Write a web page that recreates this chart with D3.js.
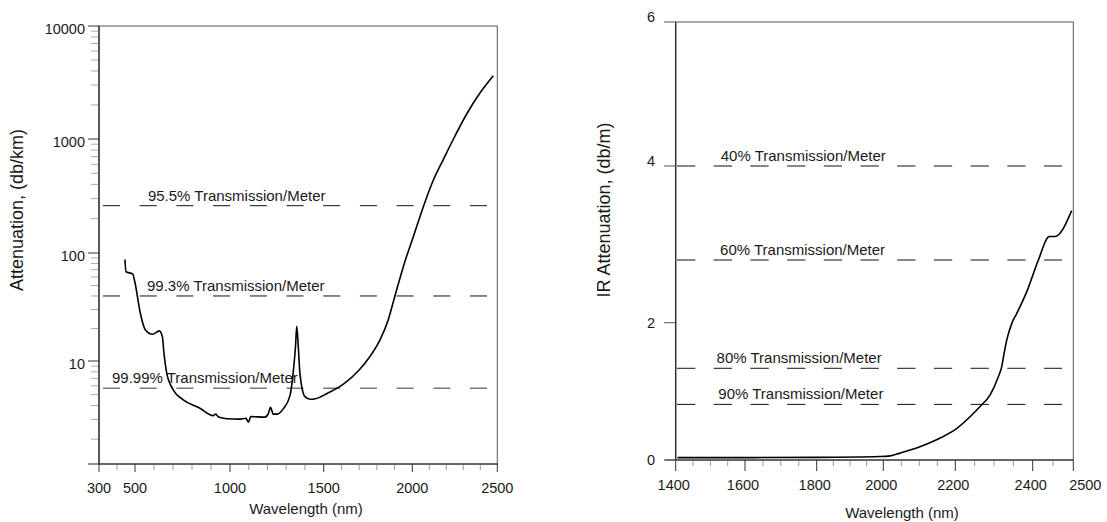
<!DOCTYPE html>
<html>
<head>
<meta charset="utf-8">
<title>Fiber attenuation</title>
<script src="https://d3js.org/d3.v7.min.js"></script>
<style>
  body { margin: 0; background: #fff; }
  text { font-family: "Liberation Sans", Arial, Helvetica, sans-serif; fill: #1a1a1a; }
</style>
</head>
<body>
<script>
// left chart: attenuation (db/km) vs wavelength (nm)
var leftWavelength = [444, 450, 487, 500, 528, 555, 593, 628, 644, 652, 667, 702, 754, 842, 911, 925, 940, 982,
  1050, 1085, 1098, 1111, 1187, 1205, 1216, 1231, 1253, 1285, 1320, 1337, 1350, 1356, 1364, 1373, 1400, 1427,
  1455, 1517, 1611, 1700, 1761, 1817, 1864, 1902, 1958, 2006, 2065, 2124, 2183, 2242, 2320, 2398, 2476];
var leftAtten = [87, 67, 64, 53, 27.7, 19.4, 17.7, 19, 16.8, 12, 7.8, 5.5, 4.5, 3.78, 3.25, 3.35, 3.15, 3.05,
  3.02, 3.08, 2.84, 3.18, 3.15, 3.4, 3.85, 3.35, 3.35, 3.75, 4.9, 7.8, 14, 21, 14, 7.8, 4.8, 4.55,
  4.6, 5.1, 6.2, 8.3, 11, 15.6, 24, 40, 83, 139, 255, 437, 663, 1000, 1665, 2550, 3630];
var leftXTicks = [300, 500, 1000, 1500, 2000, 2500];
var leftYTicks = [10, 100, 1000, 10000];
var leftRefValues = [260, 40, 5.7];
var leftRefLabels = ["95.5% Transmission/Meter", "99.3% Transmission/Meter", "99.99% Transmission/Meter"];

// right chart: IR attenuation (db/m) vs wavelength (nm)
var rightWavelength = [1405, 1600, 1800, 1990, 2019, 2046, 2100, 2158, 2204, 2238, 2264, 2290, 2311, 2320,
  2326, 2333, 2346, 2359, 2385, 2414, 2441, 2455, 2496];
var rightAtten = [0.035, 0.035, 0.038, 0.05, 0.06, 0.1, 0.19, 0.32, 0.46, 0.63, 0.78, 0.95, 1.21, 1.36,
  1.55, 1.75, 1.99, 2.12, 2.4, 2.8, 3.1, 3.1, 3.43];
var rightXTicks = [1400, 1600, 1800, 2000, 2200, 2400, 2500];
var rightYTicks = [0, 2, 4, 6];
var rightRefValues = [4, 2.8, 1.336, 0.81];
var rightRefLabels = ["40% Transmission/Meter", "60% Transmission/Meter", "80% Transmission/Meter", "90% Transmission/Meter"];

var svg = d3.select("body").append("svg")
  .attr("width", 1107)
  .attr("height", 522);

// scales (piecewise to follow the slightly uneven printed axes)
var xL = d3.scaleLinear()
  .domain([300, 500, 1000, 1500, 2000, 2500])
  .range([99, 135, 230, 323.7, 412.3, 497.3]);
var yL = d3.scaleLog()
  .domain([1.2, 10, 100, 1000, 10000])
  .range([464, 361, 253, 139, 26]);

var xR = d3.scaleLinear()
  .domain([1400, 1600, 1800, 2000, 2200, 2400, 2500])
  .range([675.7, 745, 816.7, 883.3, 955.3, 1032.7, 1073.3]);
var yR = d3.scaleLinear()
  .domain([0, 2, 4, 6])
  .range([460, 322.7, 166, 22]);

function frame(x, y) {
  var x0 = x.range()[0], x1 = x.range()[x.range().length - 1];
  var y0 = y.range()[0], y1 = y.range()[y.range().length - 1];
  svg.append("rect")
    .attr("x", x0).attr("y", y1)
    .attr("width", x1 - x0).attr("height", y0 - y1)
    .attr("fill", "none").attr("stroke", "#555").attr("stroke-width", 1);
  // left and bottom axes a bit darker
  svg.append("line").attr("x1", x0).attr("x2", x0).attr("y1", y1).attr("y2", y0)
    .attr("stroke", "#222").attr("stroke-width", 1.2);
  svg.append("line").attr("x1", x0 - 11).attr("x2", x1).attr("y1", y0).attr("y2", y0)
    .attr("stroke", "#222").attr("stroke-width", 1.2);
}

// ---------- left chart ----------
frame(xL, yL);
var gL = svg.append("g");

// x minor ticks every 100 nm
gL.selectAll(".xminor").data(d3.range(300, 2501, 100).filter(function(d) { return leftXTicks.indexOf(d) < 0; }))
  .enter().append("line")
  .attr("x1", function(d) { return xL(d); }).attr("x2", function(d) { return xL(d); })
  .attr("y1", 465).attr("y2", 470)
  .attr("stroke", "#999");
gL.selectAll(".xmajor").data(leftXTicks).enter().append("line")
  .attr("x1", function(d) { return xL(d); }).attr("x2", function(d) { return xL(d); })
  .attr("y1", 464).attr("y2", 472)
  .attr("stroke", "#333");
gL.selectAll(".xlab").data(leftXTicks).enter().append("text")
  .attr("x", function(d) { return xL(d); })
  .attr("y", 493)
  .attr("text-anchor", "middle")
  .style("font-size", "14.5px")
  .text(function(d) { return d; });

// y minor ticks (2..9 per decade)
var minorL = [];
[1, 10, 100, 1000].forEach(function(dec) {
  for (var k = 2; k <= 9; k++) if (k * dec >= 1.2) minorL.push(k * dec);
});
gL.selectAll(".yminor").data(minorL).enter().append("line")
  .attr("x1", 91).attr("x2", 98)
  .attr("y1", function(d) { return yL(d); }).attr("y2", function(d) { return yL(d); })
  .attr("stroke", "#aaa");
gL.selectAll(".ymajor").data(leftYTicks).enter().append("line")
  .attr("x1", 88).attr("x2", 99)
  .attr("y1", function(d) { return yL(d); }).attr("y2", function(d) { return yL(d); })
  .attr("stroke", "#333");
gL.selectAll(".ylab").data(leftYTicks).enter().append("text")
  .attr("x", 85)
  .attr("y", function(d) { return yL(d) + 8; })
  .attr("text-anchor", "end")
  .style("font-size", "14.5px")
  .text(function(d) { return d; });

// reference lines
var leftLabelAt = [568, 563, 372];
leftRefValues.forEach(function(v, i) {
  gL.append("line")
    .attr("x1", 103).attr("x2", 488)
    .attr("y1", yL(v)).attr("y2", yL(v))
    .attr("stroke", i === 2 ? "#777" : "#111")
    .attr("stroke-width", i === 2 ? 1.5 : 1)
    .attr("stroke-dasharray", "17,19.7");
  gL.append("text")
    .attr("x", xL(leftLabelAt[i]))
    .attr("y", yL(v) - 5)
    .style("font-size", "15px")
    .text(leftRefLabels[i]);
});

var lineL = d3.line()
  .x(function(d, i) { return xL(leftWavelength[i]); })
  .y(function(d) { return yL(d); })
  .curve(d3.curveMonotoneX);
gL.append("path")
  .attr("d", lineL(leftAtten))
  .attr("fill", "none")
  .attr("stroke", "#000")
  .attr("stroke-width", 1.6);

gL.append("text")
  .attr("x", 306).attr("y", 514)
  .attr("text-anchor", "middle")
  .style("font-size", "15px")
  .text("Wavelength (nm)");
gL.append("text")
  .attr("transform", "translate(23,210) rotate(-90)")
  .attr("text-anchor", "middle")
  .style("font-size", "18px")
  .text("Attenuation, (db/km)");

// ---------- right chart ----------
frame(xR, yR);
var gR = svg.append("g");

gR.selectAll(".xminor").data(d3.range(1400, 2501, 50).filter(function(d) { return rightXTicks.indexOf(d) < 0; }))
  .enter().append("line")
  .attr("x1", function(d) { return xR(d); }).attr("x2", function(d) { return xR(d); })
  .attr("y1", 461).attr("y2", 466)
  .attr("stroke", "#999");
gR.selectAll(".xmajor").data(rightXTicks).enter().append("line")
  .attr("x1", function(d) { return xR(d); }).attr("x2", function(d) { return xR(d); })
  .attr("y1", 460).attr("y2", 471)
  .attr("stroke", "#333");
gR.selectAll(".xlab").data(rightXTicks).enter().append("text")
  .attr("x", function(d) { return xR(d) + (d === 2500 ? 12 : -2); })
  .attr("y", 490)
  .attr("text-anchor", "middle")
  .style("font-size", "14.5px")
  .text(function(d) { return d; });

gR.selectAll(".ymajor").data(rightYTicks).enter().append("line")
  .attr("x1", 664).attr("x2", 675.7)
  .attr("y1", function(d) { return yR(d); }).attr("y2", function(d) { return yR(d); })
  .attr("stroke", "#555");
gR.selectAll(".ylab").data(rightYTicks).enter().append("text")
  .attr("x", 655)
  .attr("y", function(d) { return yR(d) + (d >= 4 ? 0 : 5); })
  .attr("text-anchor", "end")
  .style("font-size", "14.5px")
  .text(function(d) { return d; });

var rightLabelAt = [1530, 1528, 1518, 1523];
rightRefValues.forEach(function(v, i) {
  gR.append("line")
    .attr("x1", 677).attr("x2", 1062)
    .attr("y1", yR(v)).attr("y2", yR(v))
    .attr("stroke", "#111")
    .attr("stroke-dasharray", "18.3,18.4");
  gR.append("text")
    .attr("x", xR(rightLabelAt[i]))
    .attr("y", yR(v) - 5)
    .style("font-size", "15px")
    .text(rightRefLabels[i]);
});

var lineR = d3.line()
  .x(function(d, i) { return xR(rightWavelength[i]); })
  .y(function(d) { return yR(d); })
  .curve(d3.curveMonotoneX);
gR.append("path")
  .attr("d", lineR(rightAtten))
  .attr("fill", "none")
  .attr("stroke", "#000")
  .attr("stroke-width", 1.6);

gR.append("text")
  .attr("x", 902).attr("y", 518)
  .attr("text-anchor", "middle")
  .style("font-size", "15px")
  .text("Wavelength (nm)");
gR.append("text")
  .attr("transform", "translate(610,210) rotate(-90)")
  .attr("text-anchor", "middle")
  .style("font-size", "18px")
  .text("IR Attenuation, (db/m)");
</script>
</body>
</html>
